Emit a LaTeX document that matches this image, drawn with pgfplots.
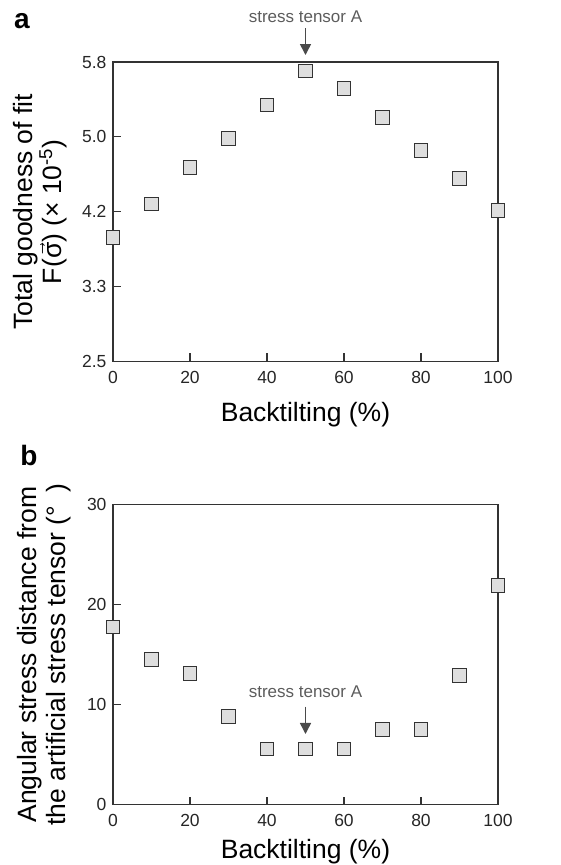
\documentclass[border=0pt]{standalone}
\usepackage{fontspec}
\setmainfont{Liberation Sans}
\usepackage{amsmath}
\usepackage{pgfplots}
\pgfplotsset{compat=1.18}
\usetikzlibrary{arrows.meta}
\definecolor{axgray}{HTML}{333333}
\definecolor{mkfill}{HTML}{DEDEDE}
\definecolor{annot}{HTML}{5C5C5C}
\definecolor{arrowc}{HTML}{4A4A4A}
\tikzset{
  pointer/.style={arrowc, line width=1.5pt, -{Triangle[length=11pt,width=11pt]}},
  pointertext/.style={text=annot, font=\fontsize{17}{20}\selectfont},
}
\pgfplotsset{
  panel/.style={
    scale only axis, width=385pt,
    xmin=0, xmax=100, xtick={0,20,...,100},
    tick align=inside, tick pos=left,
    major tick length=8pt,
    axis line style={axgray, line width=1.1pt},
    every tick/.style={axgray, line width=1.1pt},
    tick label style={font=\fontsize{17.5}{20}\selectfont, text=black!85},
    /pgf/number format/assume math mode=true,
    xticklabel style={yshift=-6.5pt},
    yticklabel style={xshift=-3pt},
    xlabel={Backtilting (\%)},
    label style={font=\fontsize{26.5}{29}\selectfont},
    ylabel style={align=center, anchor=center},
    clip=false,
  },
  sq/.style={only marks, mark=square*, mark size=6.9pt,
    mark options={fill=mkfill, draw=axgray, line width=1.1pt}},
}
\begin{document}
\begin{tikzpicture}
\useasboundingbox (0,0) rectangle (560pt,865pt);

% panel a
\begin{axis}[panel, at={(113pt,503.5pt)}, anchor=south west, height=299.5pt,
  ymin=2.5, ymax=5.8,
  ytick={2.5,3.325,4.15,4.975,5.8},
  yticklabels={2.5,3.3,4.2,5.0,5.8},
  xlabel style={at={(axis description cs:0.5,-0.176)}, anchor=center},
  ylabel style={at={(axis description cs:-0.19,0.5)}},
  ylabel={Total goodness of fit\\F($\vec{\text{σ}}$) (× 10\textsuperscript{-5})},
]
\addplot[sq] coordinates {
  (0,3.864)(10,4.235)(20,4.640)(30,4.959)(40,5.326)(50,5.701)
  (60,5.506)(70,5.186)(80,4.823)(90,4.518)(100,4.162)};
\draw[pointer] (axis cs:50,6.174) -- (axis cs:50,5.877);
\node[pointertext] at (axis cs:50,6.299) {stress tensor A};
\end{axis}

% panel b
\begin{axis}[panel, at={(113pt,60.3pt)}, anchor=south west, height=300pt,
  ymin=0, ymax=30, ytick={0,10,20,30},
  xlabel style={at={(axis description cs:0.5,-0.157)}, anchor=center},
  ylabel style={at={(axis description cs:-0.18,0.5)}},
  ylabel={Angular stress distance from\\the artificial stress tensor (°\,\,\,)},
]
\addplot[sq] coordinates {
  (0,17.77)(10,14.53)(20,13.1)(30,8.8)(40,5.57)(50,5.57)
  (60,5.57)(70,7.5)(80,7.5)(90,12.9)(100,21.9)};
\draw[pointer] (axis cs:50,9.8) -- (axis cs:50,7.07);
\node[pointertext] at (axis cs:50,11.3) {stress tensor A};
\end{axis}

\node[font=\bfseries\fontsize{28}{30}\selectfont] at (22pt,844pt) {a};
\node[font=\bfseries\fontsize{28}{30}\selectfont] at (29pt,410pt) {b};
\end{tikzpicture}
\end{document}
